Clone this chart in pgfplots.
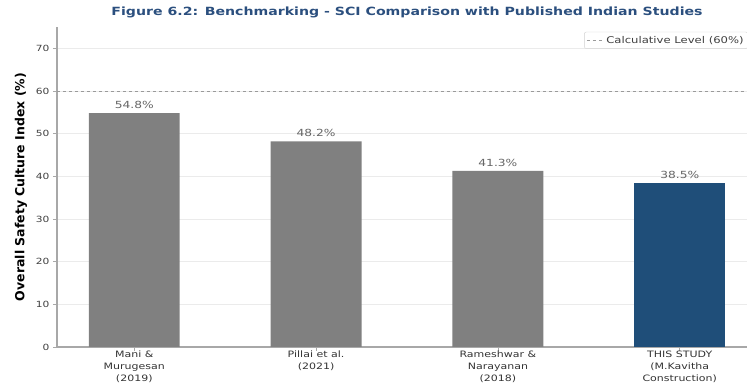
\documentclass[border=0pt]{standalone}
\usepackage{fontspec}
\setmainfont{DejaVu Sans}
\newfontfamily\widefont{DejaVu Sans}[FakeStretch=1.25]
\usepackage{pgfplots}
\usepackage{pgfplotstable}
\pgfplotsset{compat=1.18}

\definecolor{barGray}{HTML}{808080}
\definecolor{studyBlue}{HTML}{1F4E79}
\definecolor{titleBlue}{HTML}{2B4F7E}
\definecolor{spineGray}{HTML}{A8A8A8}
\definecolor{refGray}{HTML}{9A9A9A}

% SCI values (%) from the published studies and from this study
\pgfplotstableread{
x val
0 54.8
1 48.2
2 41.3
}\published
\pgfplotstableread{
x val
3 38.5
}\thisstudy

\begin{document}
\begin{tikzpicture}
\begin{axis}[
  name=ax,
  scale only axis,
  width=700pt, height=320pt,
  xmin=-0.425, xmax=3.425,
  ymin=0, ymax=75,
  axis x line*=bottom,
  axis y line*=left,
  axis line style={spineGray, line width=1.3pt},
  tick style={spineGray, line width=0.8pt},
  major tick length=4pt,
  tick align=outside,
  xtick={0,1,2,3},
  xticklabels={{Mani \&\\Murugesan\\(2019)},
               {Pillai et al.\\(2021)},
               {Rameshwar \&\\Narayanan\\(2018)},
               {THIS STUDY\\(M.Kavitha\\Construction)}},
  xticklabel style={align=center, font=\widefont\fontsize{8.8}{12}\selectfont,
                    text=black!80, inner sep=1pt, yshift=1pt},
  ytick={0,10,...,70},
  yticklabel style={font=\widefont\fontsize{8.5}{10}\selectfont, text=black!75},
  /pgf/number format/assume math mode=true,
  ymajorgrids,
  grid style={black!8, line width=0.6pt},
  ylabel={Overall Safety Culture Index (\%)},
  ylabel style={font=\bfseries\fontsize{12.5}{15}\selectfont, text=black, yshift=2pt},
  title={Figure 6.2: Benchmarking - SCI Comparison with Published Indian Studies},
  title style={font=\widefont\bfseries\fontsize{11.3}{14}\selectfont, text=titleBlue, yshift=0pt},
  legend style={at={(0.987,0.985)}, anchor=north east,
                font=\widefont\fontsize{9.3}{11}\selectfont, text=black!75,
                draw=black!18, rounded corners=2pt, inner sep=2pt},
  legend cell align=left,
  nodes near coords={\pgfmathprintnumber[fixed, precision=1, fixed zerofill]{\pgfplotspointmeta}\%},
  every node near coord/.append style={font=\widefont\fontsize{9.8}{12}\selectfont, text=black!60, anchor=south, yshift=1pt},
]
\addplot[ybar, bar width=0.5, bar shift=0pt, fill=barGray, draw=none, forget plot]
  table[x=x, y=val] {\published};
\addplot[ybar, bar width=0.5, bar shift=0pt, fill=studyBlue, draw=none, forget plot]
  table[x=x, y=val] {\thisstudy};
\addplot[refGray, dashed, line width=0.9pt, nodes near coords={}]
  coordinates {(-0.425,60) (3.425,60)};
\addlegendentry{Calculative Level (60\%)}
\end{axis}
\pgfresetboundingbox
\path[use as bounding box]
  ([shift={(-57pt,-40pt)}]ax.south west) rectangle ([shift={(690pt,347pt)}]ax.south west);
\end{tikzpicture}
\end{document}
